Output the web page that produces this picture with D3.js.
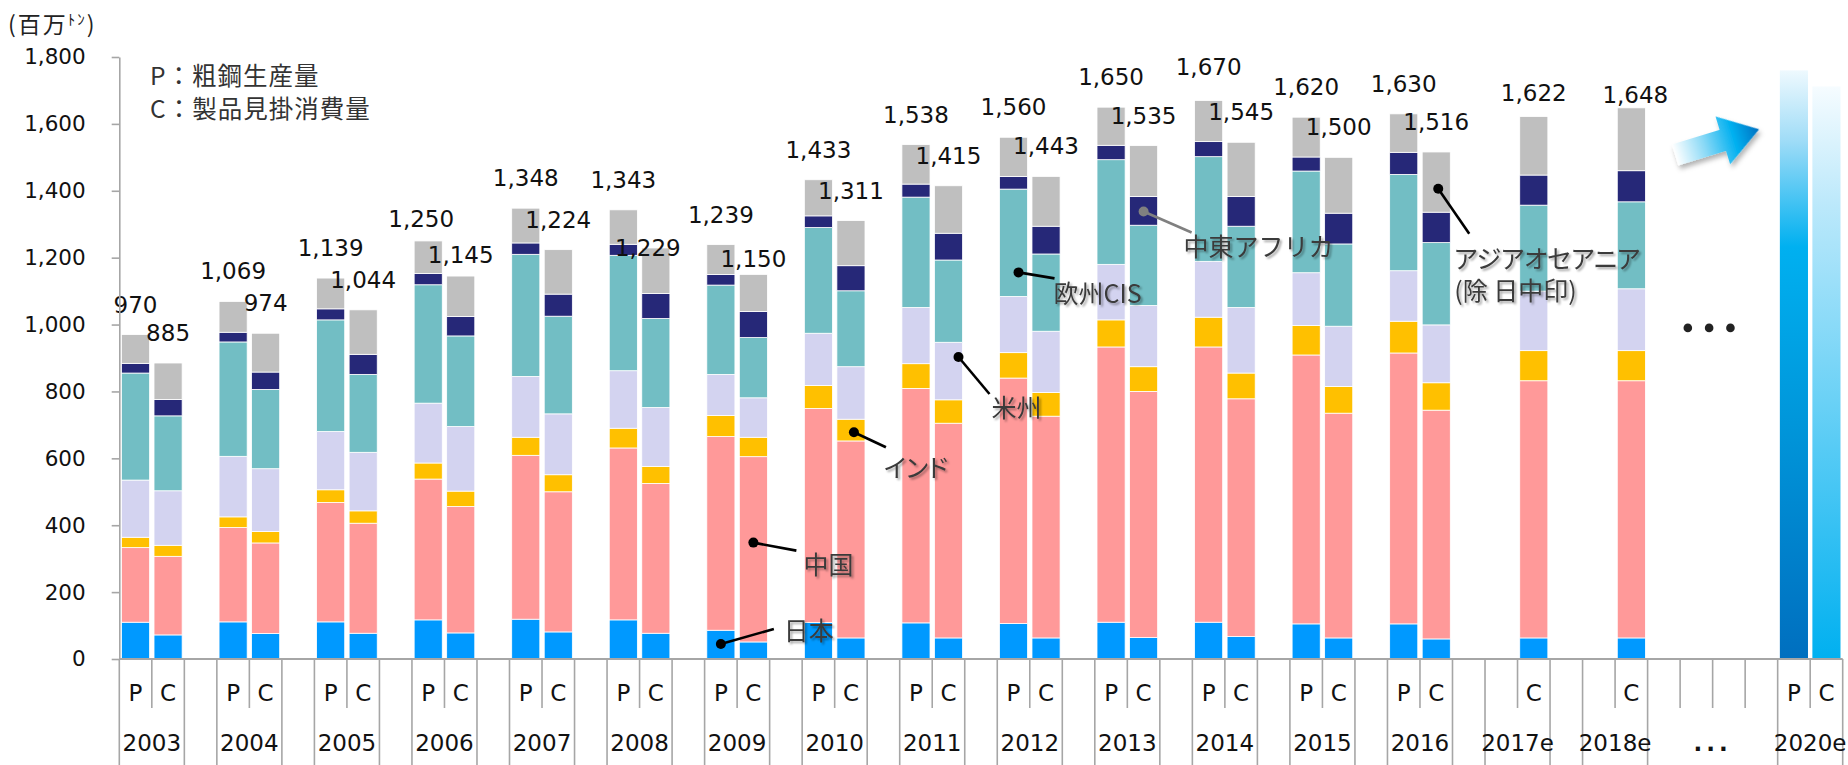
<!DOCTYPE html>
<html>
<head>
<meta charset="utf-8">
<script src="https://cdn.jsdelivr.net/npm/d3@7"></script>
<style>
  html, body { margin: 0; padding: 0; background: #fff; }
  svg { display: block; }
  .num { font-family: "DejaVu Sans", Verdana, sans-serif; }
  .jp { font-family: "Noto Sans CJK JP", "Noto Sans", sans-serif; }
</style>
</head>
<body>
<svg id="chart" width="1848" height="765"></svg>
<script>
// ---- data -------------------------------------------------------------
// Regions, stacked bottom to top
const regions = ["日本", "中国", "インド", "米州", "欧州CIS", "中東アフリカ", "アジアオセアニア"];
const regionColors = ["#0099ff", "#ff9999", "#ffc000", "#d3d3f0", "#72bec4", "#262878", "#bfbfbf"];

// P = 粗鋼生産量, C = 製品見掛消費量 (百万トン)
const barKeys = [
  "2003-P", "2003-C", "2004-P", "2004-C", "2005-P", "2005-C", "2006-P", "2006-C",
  "2007-P", "2007-C", "2008-P", "2008-C", "2009-P", "2009-C", "2010-P", "2010-C",
  "2011-P", "2011-C", "2012-P", "2012-C", "2013-P", "2013-C", "2014-P", "2014-C",
  "2015-P", "2015-C", "2016-P", "2016-C", "2017e-C", "2018e-C"
];
const japan   = [110, 72, 111, 76, 111, 77, 117, 78, 119, 81, 117, 77, 86, 51, 109, 63, 108, 63, 106, 63, 110, 64, 110, 67, 105, 63, 105, 60, 63, 63];
const china   = [223, 235, 282, 271, 357, 329, 421, 378, 490, 419, 514, 448, 579, 554, 640, 589, 701, 642, 734, 663, 823, 736, 823, 711, 804, 672, 810, 684, 769, 769];
const india   = [31, 33, 32, 34, 38, 37, 48, 46, 54, 51, 59, 51, 63, 58, 69, 65, 74, 70, 76, 71, 81, 74, 89, 77, 88, 80, 95, 82, 90, 90];
const america = [171, 163, 181, 188, 174, 175, 179, 193, 182, 182, 172, 176, 123, 118, 156, 157, 168, 172, 168, 183, 166, 183, 167, 196, 158, 180, 151, 173, 178, 185];
const europe  = [320, 224, 342, 237, 334, 233, 354, 271, 365, 292, 345, 266, 267, 180, 316, 227, 330, 246, 321, 231, 313, 240, 313, 243, 304, 246, 288, 246, 257, 260];
const mideast = [29, 49, 29, 52, 33, 60, 34, 58, 34, 66, 33, 75, 32, 78, 35, 75, 39, 80, 38, 83, 43, 86, 45, 89, 42, 92, 66, 91, 90, 93];
const asia    = [86, 109, 92, 116, 92, 133, 97, 121, 104, 133, 103, 136, 89, 111, 108, 135, 118, 142, 117, 149, 114, 152, 123, 162, 119, 167, 115, 180, 175, 188];
const totals  = [970, 885, 1069, 974, 1139, 1044, 1250, 1145, 1348, 1224, 1343, 1229, 1239, 1150, 1433, 1311,
                 1538, 1415, 1560, 1443, 1650, 1535, 1670, 1545, 1620, 1500, 1630, 1516, 1622, 1648];

// 2020 outlook bars (no breakdown)
const outlookKeys = ["2020e-P", "2020e-C"];
const outlookValues = [1760, 1712];

// Category axis: outer groups and their inner slots
const groupLabels = ["2003", "2004", "2005", "2006", "2007", "2008", "2009", "2010", "2011", "2012",
                     "2013", "2014", "2015", "2016", "2017e", "2018e", "...", "2020e"];
const groupSlots = [
  ["P", "C"], ["P", "C"], ["P", "C"], ["P", "C"], ["P", "C"], ["P", "C"], ["P", "C"],
  ["P", "C"], ["P", "C"], ["P", "C"], ["P", "C"], ["P", "C"], ["P", "C"], ["P", "C"],
  ["", "C"], ["", "C"], ["", "", "", ""], ["P", "C"]
];
const gapAfter = [true, true, true, true, true, true, true, true, true, true,
                  true, true, true, true, true, false, false, false];

const yTicks = [0, 200, 400, 600, 800, 1000, 1200, 1400, 1600, 1800];

// Leader-line callouts: bar, value where the dot sits
const noteLabels = [["日本"], ["中国"], ["インド"], ["米州"], ["欧州CIS"], ["中東アフリカ"], ["アジアオセアニア", "(除 日中印)"]];
const noteBars   = ["2009-P", "2009-C", "2010-C", "2011-C", "2012-P", "2013-C", "2016-C"];
const noteValues = [45, 348, 678, 903, 1156, 1338, 1406];

// ---- layout -----------------------------------------------------------
const X0 = 119.3, X1 = 1842.7, Y0 = 659, YT = 57;
const svg = d3.select("#chart");
const defs = svg.append("defs");

const slots = [];
const tickKind = new Map();
const spans = [];
groupLabels.forEach((g, gi) => {
  const start = slots.length;
  groupSlots[gi].forEach((s, si) => slots.push({ key: `${g}-${s || "_" + si}`, sub: s }));
  const end = slots.length;
  tickKind.set(start, "long");
  for (let i = start + 1; i < end; i++) if (tickKind.get(i) !== "long") tickKind.set(i, "short");
  tickKind.set(end, "long");
  spans.push({ label: g, start, end });
  if (gapAfter[gi]) {
    slots.push({ key: `${g}-gap`, sub: "" });
    tickKind.set(slots.length, "long");
  }
});

const x = d3.scaleBand().domain(slots.map(d => d.key)).range([X0, X1]).paddingInner(0).paddingOuter(0);
const step = x.step();
const y = d3.scaleLinear().domain([0, 1800]).range([Y0, YT]);
const pad = 2.2;
const barW = x.bandwidth() - 2 * pad;

// ---- filters / gradients ---------------------------------------------
const sh = defs.append("filter").attr("id", "tshadow")
  .attr("x", "-10%").attr("y", "-20%").attr("width", "130%").attr("height", "160%");
sh.append("feDropShadow").attr("dx", 2).attr("dy", 2).attr("stdDeviation", 1.3)
  .attr("flood-color", "#000").attr("flood-opacity", 0.35);

const ash = defs.append("filter").attr("id", "ashadow")
  .attr("x", "-20%").attr("y", "-20%").attr("width", "150%").attr("height", "170%");
ash.append("feDropShadow").attr("dx", 1).attr("dy", 4).attr("stdDeviation", 2.5)
  .attr("flood-color", "#000").attr("flood-opacity", 0.3);

function vGrad(id, stops) {
  const g = defs.append("linearGradient").attr("id", id)
    .attr("x1", 0).attr("y1", 0).attr("x2", 0).attr("y2", 1);
  stops.forEach(([o, c]) => g.append("stop").attr("offset", o).attr("stop-color", c));
}
vGrad("gradP", [[0, "#eef9fe"], [0.12, "#9fdcf7"], [0.3, "#00b0f0"], [0.6, "#0096da"], [1, "#006fbf"]]);
vGrad("gradC", [[0, "#f6fcff"], [0.2, "#bde9fb"], [0.55, "#6ad1f6"], [1, "#00b0f0"]]);

const ag = defs.append("linearGradient").attr("id", "gradArrow")
  .attr("x1", 0).attr("y1", 0).attr("x2", 1).attr("y2", 0);
[[0, "#ffffff"], [0.35, "#8ad9f6"], [0.7, "#00b0f0"], [1, "#0070c0"]]
  .forEach(([o, c]) => ag.append("stop").attr("offset", o).attr("stop-color", c));

// ---- stacked bars ------------------------------------------------------
const series = [japan, china, india, america, europe, mideast, asia];
const rows = barKeys.map((k, i) => {
  const r = { key: k };
  regions.forEach((name, j) => { r[name] = series[j][i]; });
  return r;
});
const stacked = d3.stack().keys(regions)(rows);

const barsG = svg.append("g");
barsG.selectAll("g.layer").data(stacked).join("g")
  .attr("class", "layer")
  .attr("fill", (d, i) => regionColors[i])
  .selectAll("rect").data(d => d).join("rect")
  .attr("x", d => x(d.data.key) + pad)
  .attr("width", barW)
  .attr("y", d => y(d[1]))
  .attr("height", d => y(d[0]) - y(d[1]))
  .attr("stroke", "#ffffff")
  .attr("stroke-width", 0.8);

// outlook bars
barsG.selectAll("rect.outlook").data(outlookKeys).join("rect")
  .attr("class", "outlook")
  .attr("x", d => x(d) + pad)
  .attr("width", barW)
  .attr("y", (d, i) => y(outlookValues[i]))
  .attr("height", (d, i) => Y0 - y(outlookValues[i]))
  .attr("fill", (d, i) => i === 0 ? "url(#gradP)" : "url(#gradC)");

// ---- total labels ------------------------------------------------------
const labelNudge = {
  "2006-P": [-7, 8], "2006-C": [0, 9], "2008-C": [-8, 30], "2009-C": [0, 15],
  "2014-P": [0, -3], "2017e-C": [0, 6], "2018e-C": [4, 17]
};
svg.append("g").selectAll("text").data(barKeys).join("text")
  .attr("class", "num")
  .attr("x", (k) => x(k) + step / 2 + (labelNudge[k] ? labelNudge[k][0] : 0))
  .attr("y", (k, i) => y(totals[i]) - 30 + (labelNudge[k] ? labelNudge[k][1] : 0))
  .attr("text-anchor", "middle")
  .attr("dominant-baseline", "central")
  .attr("font-size", 23)
  .attr("fill", "#111")
  .text((k, i) => d3.format(",")(totals[i]));

// ---- y axis ------------------------------------------------------------
const yAxis = svg.append("g").attr("transform", `translate(${X0},0)`)
  .call(d3.axisLeft(y).tickValues(yTicks).tickSize(7.6).tickSizeOuter(0)
    .tickPadding(26).tickFormat(d3.format(",")));
yAxis.select(".domain").attr("stroke", "#a6a6a6").attr("stroke-width", 1.6);
yAxis.selectAll(".tick line").attr("stroke", "#a6a6a6").attr("stroke-width", 1.6);
yAxis.selectAll(".tick text").attr("class", "num").attr("font-size", 21.5).attr("fill", "#111");

// ---- category axis -----------------------------------------------------
const xa = svg.append("g");
xa.append("line").attr("x1", X0).attr("x2", X1).attr("y1", Y0).attr("y2", Y0)
  .attr("stroke", "#a6a6a6").attr("stroke-width", 2);
xa.selectAll("line.tk").data(Array.from(tickKind.entries())).join("line")
  .attr("class", "tk")
  .attr("x1", d => X0 + d[0] * step).attr("x2", d => X0 + d[0] * step)
  .attr("y1", Y0).attr("y2", d => d[1] === "long" ? 765 : 708)
  .attr("stroke", "#a6a6a6").attr("stroke-width", 1.6);
xa.selectAll("text.sub").data(slots.filter(s => s.sub)).join("text")
  .attr("class", "sub num")
  .attr("x", d => x(d.key) + step / 2)
  .attr("y", 693)
  .attr("text-anchor", "middle").attr("dominant-baseline", "central")
  .attr("font-size", 23).attr("fill", "#111")
  .text(d => d.sub);
xa.selectAll("text.grp").data(spans).join("text")
  .attr("class", "grp num")
  .attr("x", d => X0 + (d.start + d.end) / 2 * step)
  .attr("y", 743)
  .attr("text-anchor", "middle").attr("dominant-baseline", "central")
  .attr("font-size", 23)
  .attr("font-weight", d => d.label === "..." ? "bold" : "normal")
  .attr("letter-spacing", d => d.label === "..." ? 4 : 0)
  .attr("fill", "#111")
  .text(d => d.label);

// ---- continuation marks and growth arrow ------------------------------
const gap = spans.find(s => s.label === "...");
const gapMid = X0 + (gap.start + gap.end) / 2 * step;
svg.append("g").selectAll("circle").data([-1, 0, 1]).join("circle")
  .attr("cx", d => gapMid - 3.5 + d * 21.3)
  .attr("cy", y(990))
  .attr("r", 4.3)
  .attr("fill", "#222");

svg.append("path")
  .attr("d", "M0,-11 L50,-11 L50,-25 L88,0 L50,25 L50,11 L0,11 Z")
  .attr("transform", "translate(1675,155) rotate(-17)")
  .attr("fill", "url(#gradArrow)")
  .attr("filter", "url(#ashadow)");

// ---- unit and legend ---------------------------------------------------
const unit = svg.append("text").attr("class", "jp").attr("x", 8).attr("y", 23)
  .attr("dominant-baseline", "central").attr("font-size", 23).attr("fill", "#222")
  .attr("letter-spacing", 2);
unit.append("tspan").text("(百万");
unit.append("tspan").attr("font-size", 15).attr("dy", -5).text("ﾄﾝ");
unit.append("tspan").attr("dy", 5).text(")");

const legendLines = ["P：粗鋼生産量", "C：製品見掛消費量"];
svg.append("g").selectAll("text").data(legendLines).join("text")
  .attr("class", "jp")
  .attr("x", 150).attr("y", (d, i) => 74 + i * 33)
  .attr("dominant-baseline", "central")
  .attr("font-size", 24.5).attr("letter-spacing", 1).attr("fill", "#333")
  .text(d => d);

// ---- callouts ----------------------------------------------------------
const noteLayout = [
  { dx: 0, line: [53, -15], text: [63, -15], color: "#000", palt: true },
  { dx: 0, line: [43, 8], text: [50, 20], color: "#000", palt: true },
  { dx: 3, line: [32, 15], text: [30, 34], color: "#000", palt: true },
  { dx: 10, line: [31, 37], text: [33, 49], color: "#000", palt: true },
  { dx: 5, line: [36, 6], text: [35, 20], color: "#000", palt: true },
  { dx: 0, line: [48, 21], text: [40, 33], color: "#808080", palt: false },
  { dx: 2, line: [31, 45], text: [16, 68], color: "#000", palt: true }
];
const notesG = svg.append("g");
noteBars.forEach((k, i) => {
  const L = noteLayout[i];
  const cx = x(k) + step / 2 + L.dx;
  const cy = y(noteValues[i]);
  notesG.append("line")
    .attr("x1", cx).attr("y1", cy)
    .attr("x2", cx + L.line[0]).attr("y2", cy + L.line[1])
    .attr("stroke", L.color).attr("stroke-width", 2.6);
  notesG.append("circle").attr("cx", cx).attr("cy", cy).attr("r", 5).attr("fill", L.color);
  noteLabels[i].forEach((t, j) => {
    notesG.append("text")
      .attr("class", "jp")
      .attr("x", cx + L.text[0])
      .attr("y", cy + L.text[1] + j * 32)
      .attr("dominant-baseline", "central")
      .attr("font-size", 25)
      .attr("fill", "#3a3a3a")
      .attr("filter", "url(#tshadow)")
      .style("font-feature-settings", L.palt ? '"palt"' : "normal")
      .text(t);
  });
});
</script>
</body>
</html>
